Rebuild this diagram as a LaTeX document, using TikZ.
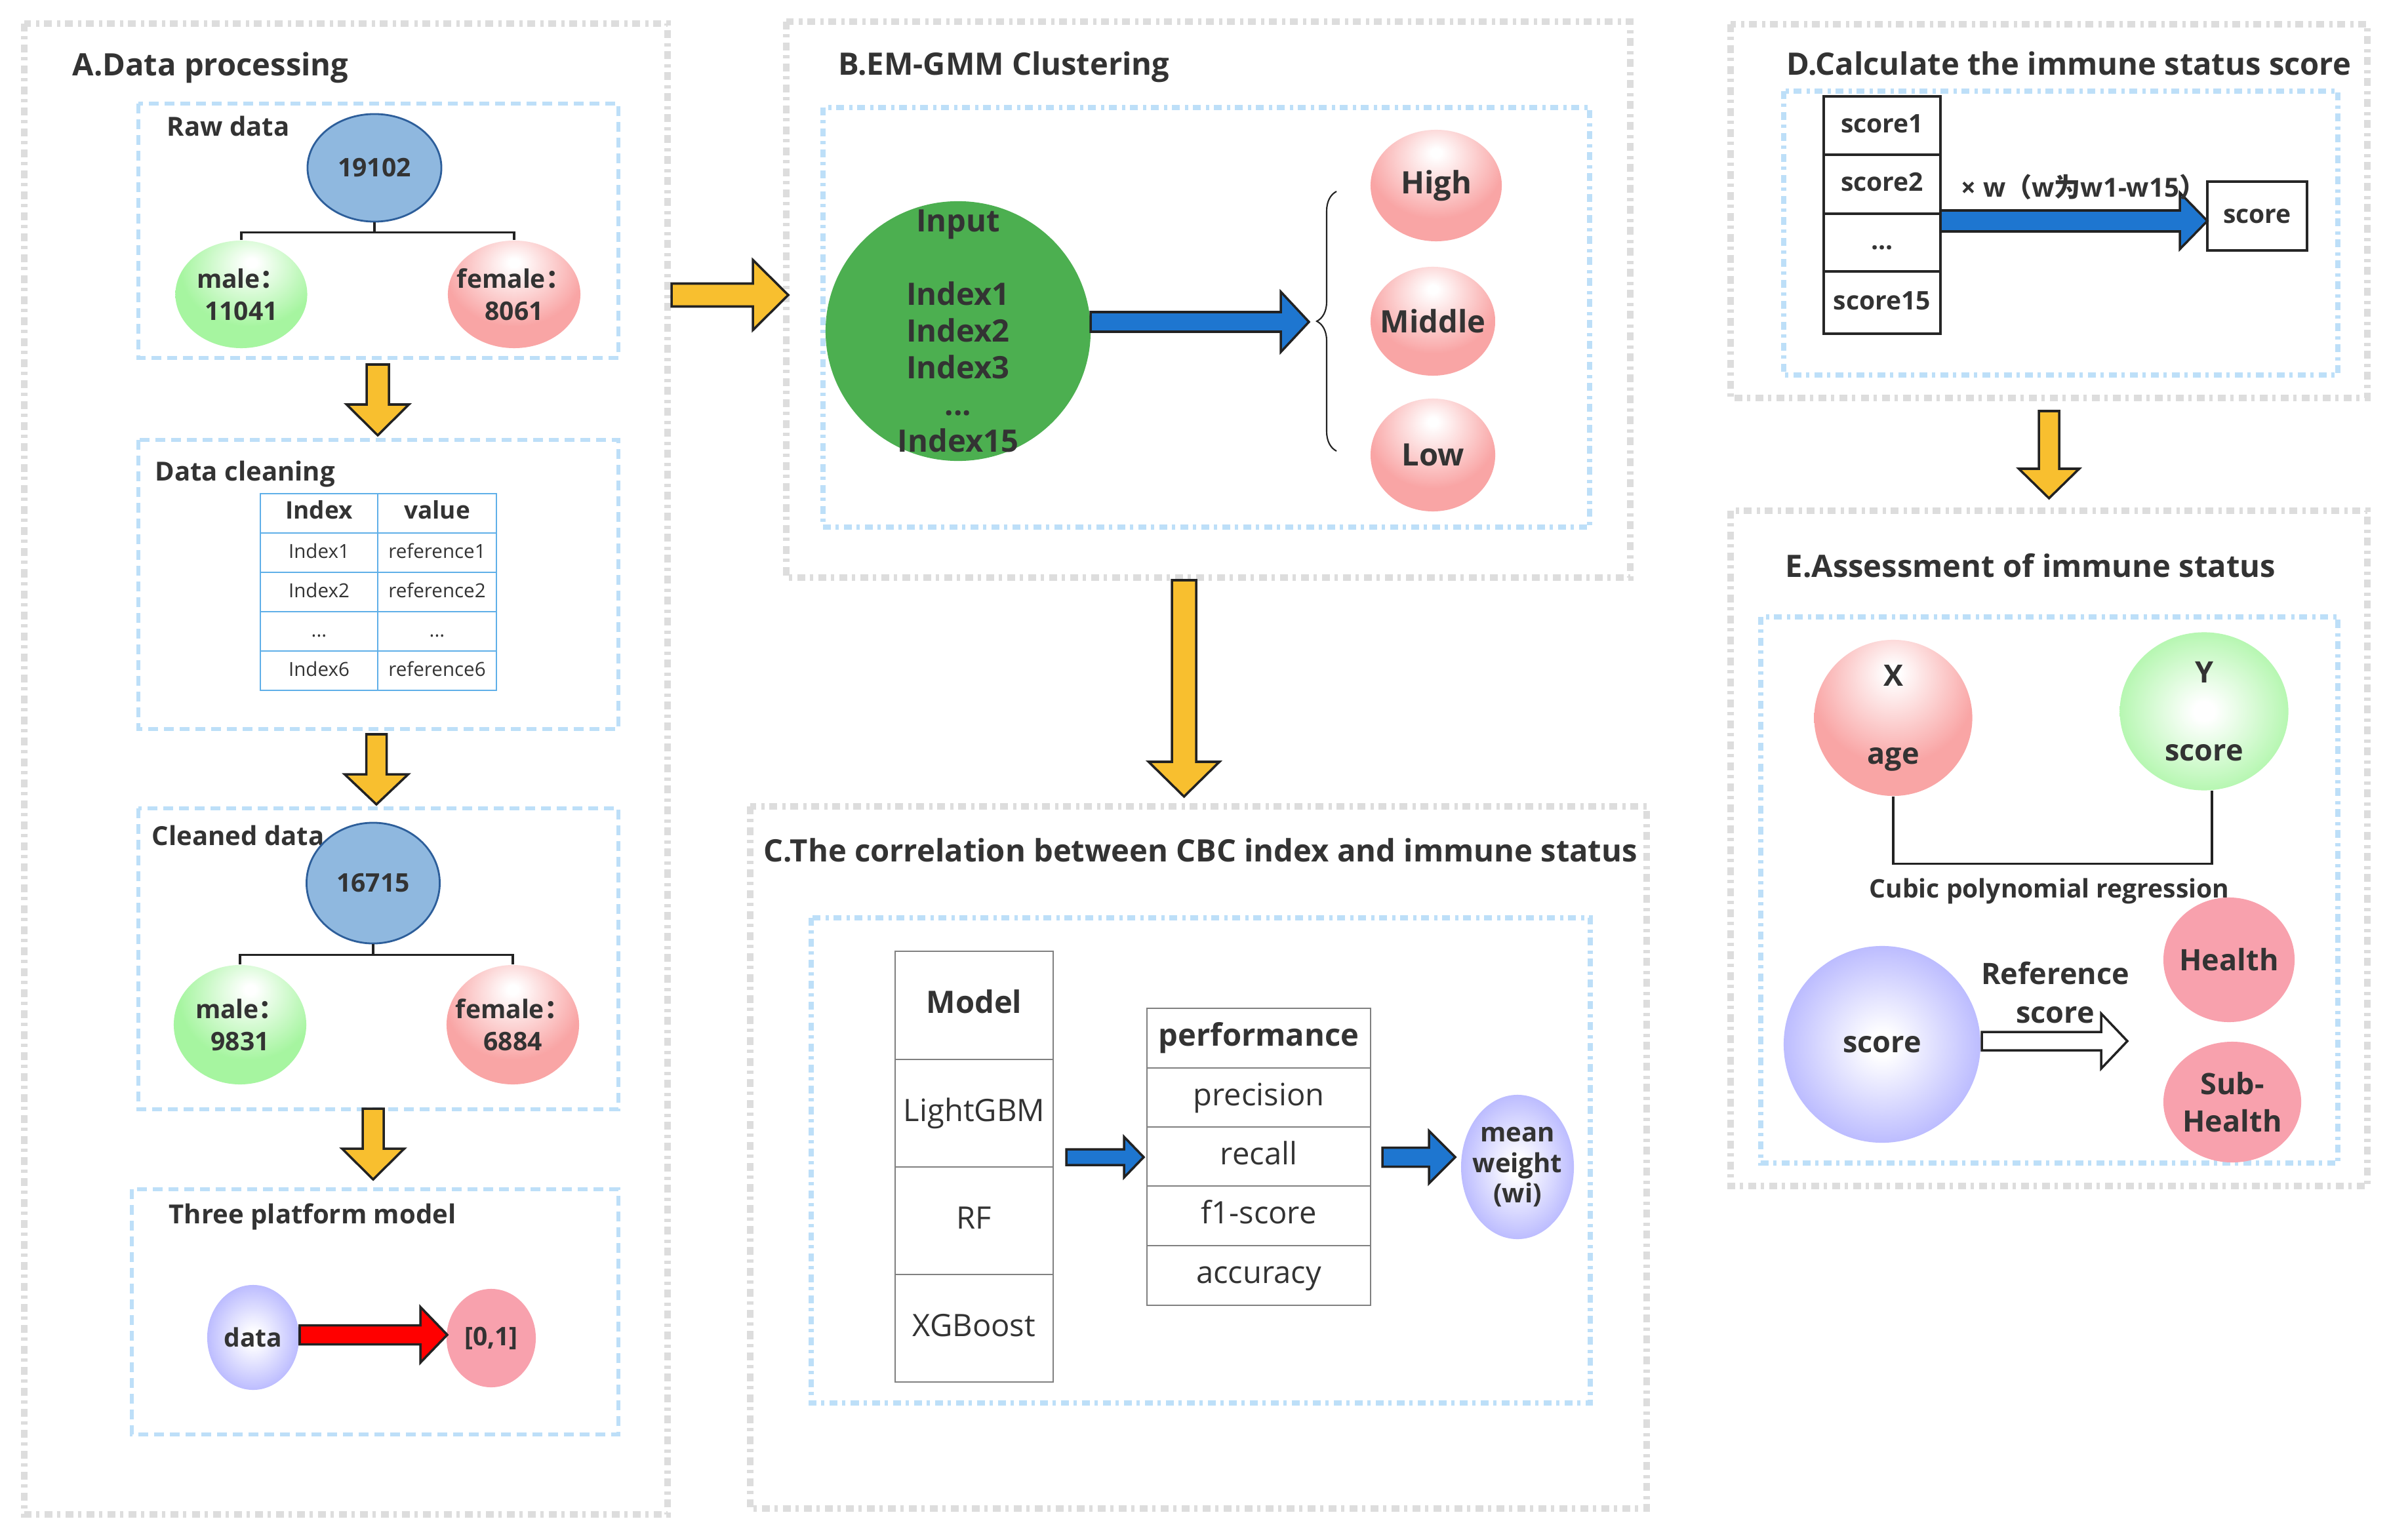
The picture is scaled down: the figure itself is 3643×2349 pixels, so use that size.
\documentclass[tikz,border=0pt]{standalone}
\usepackage{fontspec}
\setmainfont{Open Sans}
\newfontfamily\cjk{Noto Sans CJK SC}
\usetikzlibrary{shapes.geometric,decorations.pathreplacing}

\definecolor{txt}{HTML}{333333}
\definecolor{outerg}{HTML}{DDDDDD}
\definecolor{innerb}{HTML}{BDDFF8}
\definecolor{yel}{HTML}{F8BF2F}
\definecolor{arrblue}{HTML}{1E76D0}
\definecolor{arrline}{HTML}{222222}
\definecolor{ballblue}{HTML}{8FB8DF}
\definecolor{ballblueedge}{HTML}{2D5E9A}
\definecolor{gball}{HTML}{A6F5A0}
\definecolor{pball}{HTML}{F9A5A5}
\definecolor{vball}{HTML}{AAAAFF}
\definecolor{solpink}{HTML}{F8A1AD}
\definecolor{biggreen}{HTML}{4CAF50}
\definecolor{tblblue}{HTML}{5FAFE8}
\definecolor{tblgrey}{HTML}{808080}

\pgfdeclareradialshading{ballgreen}{\pgfpoint{4bp}{15bp}}{color(0bp)=(white); color(2bp)=(white); color(26bp)=(gball); color(100bp)=(gball)}
\pgfdeclareradialshading{ballpink}{\pgfpoint{0bp}{15bp}}{color(0bp)=(white); color(2bp)=(white); color(26bp)=(pball); color(100bp)=(pball)}
\pgfdeclareradialshading{ballviolet}{\pgfpoint{0bp}{0bp}}{color(0bp)=(white); color(3bp)=(white); color(31bp)=(vball); color(100bp)=(vball)}
\pgfdeclareradialshading{ballgreenc}{\pgfpoint{0bp}{0bp}}{color(0bp)=(white); color(3bp)=(white); color(30bp)=(gball); color(100bp)=(gball)}

\newcommand\fntTitle{\fontsize{13.4pt}{16pt}\selectfont\bfseries}
\newcommand\fntSub{\fontsize{11.4pt}{14pt}\selectfont\bfseries}
\newcommand\fntA{\fontsize{11.1pt}{14pt}\selectfont\bfseries}
\newcommand\fntTh{\fontsize{10.5pt}{12pt}\selectfont\bfseries}
\newcommand\fntTd{\fontsize{8.4pt}{10pt}\selectfont}
\newcommand\fntB{\fontsize{13.4pt}{15.9pt}\selectfont\bfseries}
\newcommand\fntC{\fontsize{13.4pt}{16pt}\selectfont}
\newcommand\fntMW{\fontsize{11.4pt}{13.1pt}\selectfont\bfseries}
\newcommand\fntD{\fontsize{11.1pt}{13pt}\selectfont\bfseries}
\newcommand\fntDl{\fontsize{11.4pt}{13pt}\selectfont\bfseries}
\newcommand\fntE{\fontsize{12.8pt}{16.8pt}\selectfont\bfseries}
\newcommand\fntEs{\fontsize{11.1pt}{13pt}\selectfont\bfseries}

% horizontal block arrow: style, x1, x2, y, shaft half, head half, head base x
\newcommand\harrow[7]{\draw[#1] (#2,{#4-#5}) -- (#7,{#4-#5}) -- (#7,{#4-#6}) -- (#3,#4) -- (#7,{#4+#6}) -- (#7,{#4+#5}) -- (#2,{#4+#5}) -- cycle;}
% vertical block arrow: style, x, y1, y2, shaft half, head half, head base y
\newcommand\varrow[7]{\draw[#1] ({#2-#5},#3) -- ({#2-#5},#7) -- ({#2-#6},#7) -- (#2,#4) -- ({#2+#6},#7) -- ({#2+#5},#7) -- ({#2+#5},#3) -- cycle;}

\tikzset{
  outerbox/.style={draw=outerg, line width=0.1cm, dash pattern=on 0.12cm off 0.07cm on 0.05cm off 0.08cm},
  innerdash/.style={draw=innerb, line width=0.06cm, dash pattern=on 0.15cm off 0.09cm},
  innerdd/.style={draw=innerb, line width=0.08cm, dash pattern=on 0.12cm off 0.07cm on 0.05cm off 0.08cm},
  ttl/.style={anchor=base west, inner sep=0, font=\fntTitle},
  sublbl/.style={anchor=base west, inner sep=0, font=\fntSub},
  ell/.style={ellipse, inner sep=0},
  ellblue/.style={ell, draw=ballblueedge, fill=ballblue, line width=0.8pt},
  ellgreen/.style={ell, shade, shading=ballgreen},
  ellgreenc/.style={ell, shade, shading=ballgreenc},
  ellpink/.style={ell, shade, shading=ballpink},
  ellviolet/.style={ell, shade, shading=ballviolet},
  ellsolid/.style={ell, fill=solpink},
  lblA/.style={align=center, font=\fntA, inner sep=0},
  lblB/.style={align=center, font=\fntB, inner sep=0},
  lblMW/.style={align=center, font=\fntMW, inner sep=0},
  lblE/.style={align=center, font=\fntE, inner sep=0},
  yarrow/.style={fill=yel, draw=arrline, line width=1pt, line join=miter},
  barrow/.style={fill=arrblue, draw=arrline, line width=1pt, line join=miter},
  rarrow/.style={fill=red, draw=arrline, line width=1pt, line join=miter},
  hollow/.style={fill=white, draw=arrline, line width=1pt, line join=miter},
  tree/.style={draw=arrline, line width=0.9pt},
  cellA/.style={draw=tblblue, line width=0.6pt, minimum height=0.60cm, inner sep=0, font=\fntTd, text height=7pt, text depth=2pt},
  cellC/.style={draw=tblgrey, line width=0.6pt, inner sep=0, font=\fntC, text height=10pt, text depth=3pt},
  cellD/.style={draw=black!85, line width=1pt, minimum width=1.78cm, inner sep=0, font=\fntD, text height=8.5pt, text depth=2.5pt},
  every node/.append style={text=txt}
}

\begin{document}
\begin{tikzpicture}[x=0.01cm,y=-0.01cm]
\useasboundingbox (0,0) rectangle (3643,2349);
\fill[white] (0,0) rectangle (3643,2349);

% ---------- frames ----------
\draw[outerbox] (37,36) rectangle (1018,2310);
\draw[innerdash] (211,158) rectangle (943,546);
\draw[innerdash] (211,671) rectangle (943,1112);
\draw[innerdash] (211,1233) rectangle (943,1692);
\draw[innerdash] (201,1814) rectangle (943,2188);
\draw[outerbox] (1199,33) rectangle (2486,881);
\draw[innerdd] (1255,164) rectangle (2424,804);
\draw[outerbox] (1144,1230) rectangle (2511,2301);
\draw[innerdd] (1237,1400) rectangle (2425,2140);
\draw[outerbox] (2639,37) rectangle (3610,607);
\draw[innerdd] (2720,139) rectangle (3565,572);
\draw[outerbox] (2639,779) rectangle (3610,1809);
\draw[innerdd] (2685,941) rectangle (3565,1774);

% ---------- titles ----------
\node[ttl] (tA) at (110,116) {A.Data processing};
\node[ttl] (tB) at (1278,115) {B.EM-GMM Clustering};
\node[ttl] (tC) at (1164,1314) {C.The correlation between CBC index and immune status};
\node[ttl] (tD) at (2724,115) {D.Calculate the immune status score};
\node[ttl] (tE) at (2722,880) {E.Assessment of immune status};

% ---------- A ----------
\node[sublbl] (lraw) at (254,208) {Raw data};
\node[ellblue, minimum width=2.04cm, minimum height=1.64cm, label={[lblA]center:19102}] (raw) at (571,256) {};
\node[ellgreen, minimum width=2.01cm, minimum height=1.64cm, label={[lblA]center:{male{\cjk ：}\\11041}}] (male1) at (368,449) {};
\node[ellpink, minimum width=2.02cm, minimum height=1.64cm, label={[lblA]center:{female{\cjk ：}\\8061}}] (fem1) at (784,449) {};
\draw[tree] (raw.south) -- ++(0,15) -| (male1.north);
\draw[tree] (raw.south) ++(0,15) -| (fem1.north);

\varrow{yarrow}{576}{556}{664}{17}{47.5}{617}

\node[sublbl] (lclean) at (236,733) {Data cleaning};
\node[cellA, minimum width=1.79cm, font=\fntTh] (t11) at (486.5,783) {Index};
\node[cellA, minimum width=1.81cm, font=\fntTh] (t12) at (666.5,783) {value};
\node[cellA, minimum width=1.79cm] (t21) at (486.5,843) {Index1};
\node[cellA, minimum width=1.81cm] (t22) at (666.5,843) {reference1};
\node[cellA, minimum width=1.79cm] (t31) at (486.5,903) {Index2};
\node[cellA, minimum width=1.81cm] (t32) at (666.5,903) {reference2};
\node[cellA, minimum width=1.79cm] (t41) at (486.5,963) {...};
\node[cellA, minimum width=1.81cm] (t42) at (666.5,963) {...};
\node[cellA, minimum width=1.79cm] (t51) at (486.5,1023) {Index6};
\node[cellA, minimum width=1.81cm] (t52) at (666.5,1023) {reference6};

\varrow{yarrow}{574}{1120}{1227}{15.5}{48.5}{1181}

\node[sublbl] (lcleaned) at (231,1289) {Cleaned data};
\node[ellblue, minimum width=2.03cm, minimum height=1.84cm, label={[lblA]center:16715}] (cln) at (569,1347) {};
\node[ellgreen, minimum width=2.02cm, minimum height=1.82cm, label={[lblA]center:{male{\cjk ：}\\9831}}] (male2) at (366,1563) {};
\node[ellpink, minimum width=2.02cm, minimum height=1.82cm, label={[lblA]center:{female{\cjk ：}\\6884}}] (fem2) at (782,1563) {};
\draw[tree] (cln.south) -- ++(0,16) -| (male2.north);
\draw[tree] (cln.south) ++(0,16) -| (fem2.north);

\varrow{yarrow}{569}{1691}{1799}{16}{47.5}{1752}

\node[sublbl] (lthree) at (257,1866) {Three platform model};
\node[ellviolet, minimum width=1.40cm, minimum height=1.60cm, label={[lblA]center:data}] (dat) at (386,2040) {};
\node[ellsolid, minimum width=1.36cm, minimum height=1.50cm, label={[lblA]center:{[0,1]}}] (z01) at (749,2041) {};
\harrow{rarrow}{457}{682}{2036}{14.5}{42.5}{641}

% A -> B
\harrow{yarrow}{1024}{1202}{450}{17.5}{53.5}{1148}

% ---------- B ----------
\node[ell, fill=biggreen, minimum width=4.04cm, minimum height=3.96cm] (inp) at (1461,505) {};
\node[lblB] (inptxt) at (1461,505) {Input\\[15.9pt]Index1\\Index2\\Index3\\...\\Index15};
\harrow{barrow}{1663}{1996}{491}{15}{46}{1953}
\draw[decorate, decoration={brace, amplitude=0.3cm}, draw=arrline, line width=0.6pt] (2038,688) -- (2038,292);
\node[ellpink, minimum width=2.00cm, minimum height=1.70cm, label={[lblB]center:High}] (hi) at (2190,283) {};
\node[ellpink, minimum width=1.90cm, minimum height=1.66cm, label={[lblB]center:Middle}] (mid) at (2185,490) {};
\node[ellpink, minimum width=1.90cm, minimum height=1.72cm, label={[lblB]center:Low}] (low) at (2185,694) {};

% B -> C
\varrow{yarrow}{1805.5}{885}{1215}{18.5}{54}{1162}

% ---------- C ----------
\node[cellC, minimum width=2.41cm, minimum height=1.65cm, font=\fntC\bfseries] (m1) at (1485.5,1533.5) {Model};
\node[cellC, minimum width=2.41cm, minimum height=1.64cm] (m2) at (1485.5,1698) {LightGBM};
\node[cellC, minimum width=2.41cm, minimum height=1.64cm] (m3) at (1485.5,1862) {RF};
\node[cellC, minimum width=2.41cm, minimum height=1.64cm] (m4) at (1485.5,2026) {XGBoost};
\node[cellC, minimum width=3.41cm, minimum height=0.91cm, font=\fntC\bfseries] (p1) at (1919.5,1583.5) {performance};
\node[cellC, minimum width=3.41cm, minimum height=0.90cm] (p2) at (1919.5,1674) {precision};
\node[cellC, minimum width=3.41cm, minimum height=0.90cm] (p3) at (1919.5,1764) {recall};
\node[cellC, minimum width=3.41cm, minimum height=0.91cm] (p4) at (1919.5,1854.5) {f1-score};
\node[cellC, minimum width=3.41cm, minimum height=0.91cm] (p5) at (1919.5,1945.5) {accuracy};
\harrow{barrow}{1626}{1744}{1765}{12}{31}{1714}
\harrow{barrow}{2108}{2219}{1765}{14.5}{40}{2179}
\node[ellviolet, minimum width=1.72cm, minimum height=2.20cm, label={[lblMW]center:{mean\\weight\\(wi)}}] (mw) at (2314,1780) {};

% ---------- D ----------
\node[cellD, minimum height=0.89cm] (s1) at (2870,191.5) {score1};
\node[cellD, minimum height=0.90cm] (s2) at (2870,281) {score2};
\node[cellD, minimum height=0.88cm] (s3) at (2870,370) {...};
\node[cellD, minimum height=0.95cm] (s4) at (2870,461.5) {score15};
\harrow{barrow}{2959}{3366}{337}{16}{43}{3324}
\node[anchor=west, inner sep=0, font=\fntDl] (wlbl) at (2990,285) {× w{\cjk （}w{\cjk 为}w1-w15{\cjk ）}};
\node[draw=black!85, line width=1pt, minimum width=1.52cm, minimum height=1.05cm, inner sep=0, font=\fntD] (sc) at (3442,329.5) {score};

% D -> E
\varrow{yarrow}{3124.5}{627}{760}{15.5}{46}{715}

% ---------- E ----------
\node[ellpink, minimum width=2.41cm, minimum height=2.38cm, label={[lblE]center:{X\\[17pt]age}}] (ex) at (2887,1095) {};
\node[ellgreenc, minimum width=2.57cm, minimum height=2.41cm, label={[lblE]center:{Y\\[17pt]score}}] (ey) at (3361,1085) {};
\draw[tree] (ex.south) -- ++(0,103) -| ([xshift=0.12cm]ey.south);
\node[inner sep=0, font=\fntEs] (cubic) at (3125,1359) {Cubic polynomial regression};
\node[ellviolet, minimum width=3.00cm, minimum height=3.00cm, label={[lblE]center:score}] (es) at (2870,1593) {};
\harrow{hollow}{3022}{3244}{1588}{14}{42}{3204}
\node[lblE] (ref) at (3134,1514) {Reference\\score};
\node[ellsolid, minimum width=2.00cm, minimum height=1.90cm, label={[lblE]center:Health}] (hl) at (3399,1464) {};
\node[ellsolid, minimum width=2.10cm, minimum height=1.84cm, label={[lblE, font=\fontsize{12.8pt}{16pt}\selectfont\bfseries]center:{Sub-\\Health}}] (sh) at (3404,1681) {};
\end{tikzpicture}
\end{document}
